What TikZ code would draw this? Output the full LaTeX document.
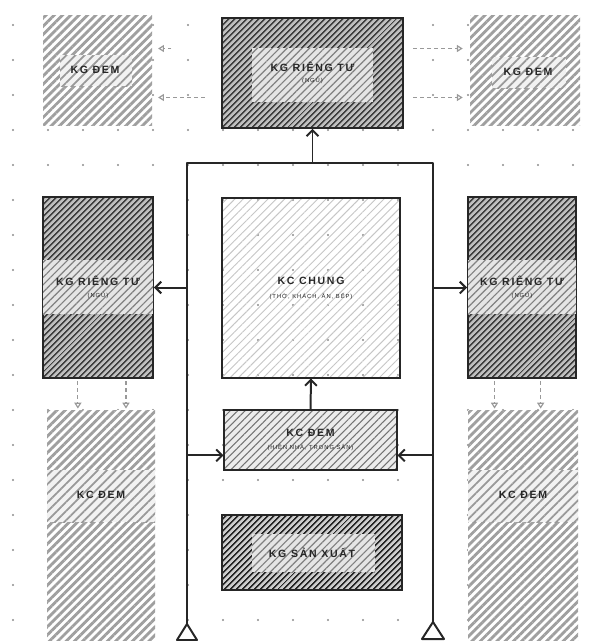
\documentclass[tikz,border=0pt]{standalone}
\usepackage{fontspec}
\setmainfont{Liberation Sans}
\newfontfamily\lblfont[LetterSpace=16]{Liberation Sans}
\usetikzlibrary{arrows.meta,patterns.meta,calc,fit}

\tikzset{
  box/.style={inner sep=0pt,line width=1.6pt,draw=black!85},
  privbox/.style={box,preaction={fill=gray!50},pattern color=black!75,
    pattern={Lines[angle=45,distance=4pt,line width=1.5pt]}},
  privband/.style={preaction={fill=gray!20},pattern color=black!50,
    pattern={Lines[angle=45,distance=4.5pt,line width=1pt]}},
  bufzone/.style={inner sep=0pt,preaction={fill=white},pattern color=gray!75,
    pattern={Lines[angle=45,distance=5pt,line width=2.4pt]}},
  bufband/.style={preaction={fill=gray!10},pattern color=black!40,
    pattern={Lines[angle=45,distance=5.5pt,line width=1.5pt]}},
  sharedbox/.style={box,pattern color=gray!45,
    pattern={Lines[angle=45,distance=5pt,line width=0.8pt]}},
  porchbox/.style={box,preaction={fill=gray!15},pattern color=black!55,
    pattern={Lines[angle=45,distance=4.5pt,line width=0.9pt]}},
  prodbox/.style={box,preaction={fill=gray!40},pattern color=black!85,
    pattern={Lines[angle=45,distance=4pt,line width=1.8pt]}},
  title/.style={font=\lblfont\fontsize{9}{11}\selectfont\bfseries,text=black!85,align=center},
  frame/.style={line width=1.7pt,draw=black!85,line join=round},
  flow/.style={frame,-{Straight Barb[length=5pt,width=10pt]}},
  dasharr/.style={dashed,line width=1pt,draw=gray!80,
    -{Triangle[open,length=5pt,width=6pt]}},
}

\newcommand{\sublbl}[1]{{\fontsize{5}{6}\selectfont\mdseries #1}}

\begin{document}
\begin{tikzpicture}[x=0.03cm,y=-0.03cm]
\useasboundingbox (0,0) rectangle (589,641);

% dot grid
\foreach \i in {0,...,16}
  \foreach \j in {0,...,17}
    \fill[gray!90] (13+35*\i,25+35*\j) circle (0.9pt);

% buffer zones
\node[bufzone,fit={(43,15) (152,125)}] (tl) {};
\node[bufzone,fit={(470,15) (580,125)}] (tr) {};
\node[bufzone,fit={(47,410) (155,641)}] (bl) {};
\node[bufzone,fit={(468,410) (578,641)}] (br) {};
\path[bufband] (60,55) rectangle (132,86);
\path[bufband] (492,57) rectangle (566,88);
\path[bufband] (47,470) rectangle (155,522);
\path[bufband] (468,470) rectangle (578,522);
\node[title] (tl-lbl) at (95,70) {KG ĐEM};
\node[title] (tr-lbl) at (528,72) {KG ĐEM};
\node[title] (bl-lbl) at (101,495) {KC ĐEM};
\node[title] (br-lbl) at (523,495) {KC ĐEM};

% private rooms
\node[privbox,fit={(222,18) (403,128)}] (tt) {};
\path[privband] (252,48) rectangle (373,102);
\node[title] (tt-lbl) at (tt.center) {KG RIÊNG TƯ\\[-1pt]\sublbl{(NGỦ)}};
\node[privbox,fit={(43,197) (153,378)}] (lt) {};
\path[privband] (43,260) rectangle (153,314);
\node[title] (lt-lbl) at (lt.center) {KG RIÊNG TƯ\\[-1pt]\sublbl{(NGỦ)}};
\node[privbox,fit={(468,197) (576,378)}] (rt) {};
\path[privband] (468,260) rectangle (576,314);
\node[title] (rt-lbl) at (rt.center) {KG RIÊNG TƯ\\[-1pt]\sublbl{(NGỦ)}};

% shared, porch, production
\node[sharedbox,fit={(222,198) (400,378)}] (chung) {};
\node[title] (chung-lbl) at (chung.center) {KC CHUNG\\[1pt]\sublbl{(THỜ, KHÁCH, ĂN, BẾP)}};
\node[porchbox,fit={(224,410) (397,470)}] (dem) {};
\node[title] (dem-lbl) at (dem.center) {KC ĐEM\\[0pt]\sublbl{(HIÊN NHÀ, TRONG SÂN)}};
\node[prodbox,fit={(222,515) (402,590)}] (sx) {};
\path[privband] (252,534) rectangle (375,572);
\node[title] (sx-lbl) at (sx.center) {KG SẢN XUẤT};

% circulation frame
\coordinate (fl-top) at (187,163);
\coordinate (fr-top) at (433,163);
\coordinate (fl-bot) at (187,624);
\coordinate (fr-bot) at (433,622);
\draw[frame] (fl-bot) -- (fl-top) -- (fr-top) -- (fr-bot);
\draw[frame] (fl-bot) -- ++(-10,16) -- ++(20,0) -- cycle;
\draw[frame] (fr-bot) -- ++(-11,17) -- ++(22,0) -- cycle;
\draw[flow] (tt.south |- fl-top) -- (tt.south);
\draw[flow] (lt.east -| fl-top) -- (lt.east);
\draw[flow] (rt.west -| fr-top) -- (rt.west);
\draw[flow] (dem.190 -| fl-top) -- (dem.190);
\draw[flow] (dem.-10 -| fr-top) -- (dem.-10);
\draw[flow] (dem.north) -- (chung.south);

% dashed links to buffers
\draw[dasharr,shorten <=8pt,shorten >=6pt] (tt.15) -- (tt.15 -| tr.west);
\draw[dasharr,shorten <=8pt,shorten >=6pt] (tt.-15) -- (tt.-15 -| tr.west);
\draw[dasharr,shorten <=14pt,shorten >=4pt] (tt.195) -- (tt.195 -| tl.east);
\coordinate (tl-tip) at ($(tl.east |- tt.165)+(18,0)$);
\draw[dasharr,shorten >=4pt] (tl-tip) -- (tl.east |- tl-tip);
\foreach \b/\f/\t in {lt/0.32/bl,lt/0.75/bl,rt/0.25/br,rt/0.67/br}{
  \coordinate (s) at ($(\b.south west)!\f!(\b.south east)$);
  \draw[dasharr,shorten <=2pt,shorten >=1pt] (s) -- (s |- \t.north);
}
\end{tikzpicture}
\end{document}
